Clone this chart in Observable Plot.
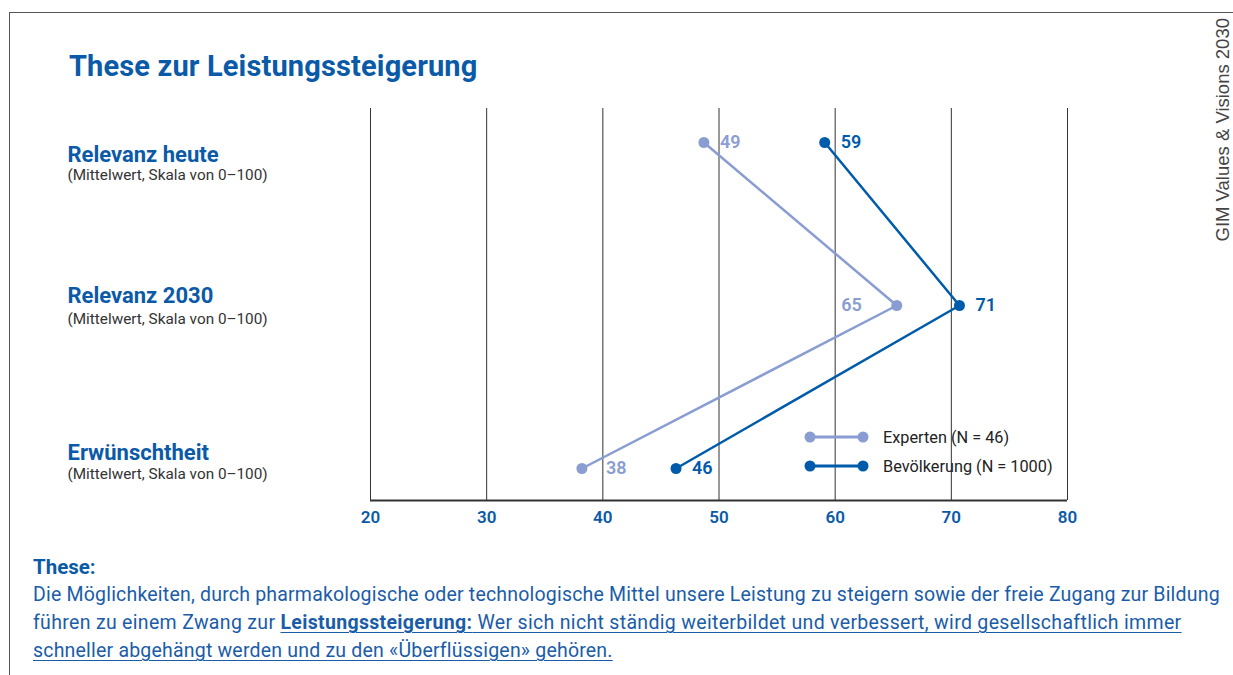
<!DOCTYPE html>
<html><head><meta charset="utf-8">
<script src="https://cdn.jsdelivr.net/npm/d3@7"></script>
<script src="https://cdn.jsdelivr.net/npm/@observablehq/plot@0.6"></script>
<style>
body{margin:0;width:1233px;height:675px;overflow:hidden;background:#fff;font-family:Roboto,"Liberation Sans",sans-serif;position:relative}
#frame{position:absolute;left:9px;top:12px;width:1300px;height:700px;border-left:1.5px solid #555;border-top:1.5px solid #555}
#title{position:absolute;left:69px;top:49px;font-size:29px;letter-spacing:0.15px;font-weight:700;color:#0a5aa8;white-space:nowrap}
#source{position:absolute;left:1214px;top:18px;writing-mode:vertical-rl;transform:rotate(180deg);font-family:"Liberation Sans",Arial,sans-serif;font-size:18.5px;line-height:18px;color:#444;white-space:nowrap}
#chart{position:absolute;left:0;top:0}
#legend{position:absolute;left:0;top:0}
#thesis{position:absolute;left:33px;top:553px;color:#1a5ca8}
#thesis .h{font-size:20.5px;font-weight:700;color:#0a5aa8;line-height:28px}
#thesis .p{font-size:19.5px;letter-spacing:0.2px;line-height:28px;white-space:nowrap}
#thesis u{text-decoration-thickness:1px;text-underline-offset:3px}
#thesis .l2{letter-spacing:0.32px}
</style></head><body>
<div id="frame"></div>
<div id="title">These zur Leistungssteigerung</div>
<div id="source">GIM Values &amp; Visions 2030</div>
<div id="chart"></div>
<div id="legend"></div>
<div id="thesis">
<div class="h">These:</div>
<div class="p">Die Möglichkeiten, durch pharmakologische oder technologische Mittel unsere Leistung zu steigern sowie der freie Zugang zur Bildung<br><span class="l2">führen zu einem Zwang zur <u><b>Leistungssteigerung:</b> Wer sich nicht ständig weiterbildet und verbessert, wird gesellschaftlich immer</u></span><br><u>schneller abgehängt werden und zu den «Überflüssigen» gehören.</u></div>
</div>
<script>
const categories = ["Relevanz heute", "Relevanz 2030", "Erwünschtheit"];
const categoryNotes = ["(Mittelwert, Skala von 0–100)", "(Mittelwert, Skala von 0–100)", "(Mittelwert, Skala von 0–100)"];
const series = ["Experten (N = 46)", "Bevölkerung (N = 1000)"];
const experten = [48.7, 65.3, 38.2];
const bevoelkerung = [59.1, 70.7, 46.3];
const xTicks = [20, 30, 40, 50, 60, 70, 80];

const colors = ["#8a9dd3", "#005bab"];
const blue = "#0a5aa8";
const rows = [];
[experten, bevoelkerung].forEach((vals, s) => vals.forEach((v, i) => rows.push({
  series: series[s], category: categories[i], value: v, label: String(Math.round(v)), s, i
})));
// label placement (style): side of the point
const leftLabel = d => d.s === 0 && d.i === 1;
const farLabel = d => d.s === 0 && d.i === 2;
const catLabelDy = [12, -10, -16];
const catNoteDy = [33, 14, 6];
const lblStyle = {x: "value", y: "category", text: "label", fill: "series", fontSize: 18, fontWeight: 600, letterSpacing: 0.6};

const marks = [
  Plot.ruleX(xTicks, {stroke: "#333", strokeWidth: 1}),
  Plot.ruleY([categories[2]], {dy: 32, stroke: "#333", strokeWidth: 2}),
  Plot.line(rows, {x: "value", y: "category", z: "series", stroke: "series", strokeWidth: 2.5}),
  Plot.dot(rows, {x: "value", y: "category", fill: "series", r: 5.5}),
  Plot.text(rows.filter(d => !leftLabel(d) && !farLabel(d)), {...lblStyle, textAnchor: "start", dx: 16}),
  Plot.text(rows.filter(farLabel), {...lblStyle, textAnchor: "start", dx: 24}),
  Plot.text(rows.filter(leftLabel), {...lblStyle, textAnchor: "end", dx: -35}),
  Plot.text(xTicks, {x: d => d, frameAnchor: "bottom", dy: 22, text: d => String(d), fill: blue, fontSize: 17, fontWeight: 600, letterSpacing: 0.6}),
];
categories.forEach((c, i) => {
  marks.push(Plot.text([c], {y: d => d, frameAnchor: "left", dx: -303, dy: catLabelDy[i], textAnchor: "start", text: d => d, fill: blue, fontSize: 22, fontWeight: 700, letterSpacing: 0.3}));
  marks.push(Plot.text([categoryNotes[i]], {y: () => c, frameAnchor: "left", dx: -303, dy: catNoteDy[i], textAnchor: "start", text: d => d, fill: "#333", fontSize: 15.3}));
});

const chart = Plot.plot({
  width: 1233, height: 540,
  marginLeft: 370, marginRight: 166, marginTop: 108, marginBottom: 40,
  x: {domain: [20, 80], axis: null},
  y: {domain: categories, range: [141, 468], padding: 0, axis: null},
  color: {domain: series, range: colors},
  style: {fontFamily: "Roboto, 'Liberation Sans', sans-serif", background: "transparent", overflow: "visible"},
  marks
});
document.getElementById("chart").appendChild(chart);

// legend
const lg = d3.select("#legend").append("svg").attr("width", 1233).attr("height", 540)
  .style("font-family", "Roboto, 'Liberation Sans', sans-serif");
series.forEach((s, k) => {
  const y = 437 + k * 29;
  const g = lg.append("g");
  g.append("line").attr("x1", 810).attr("x2", 863).attr("y1", y).attr("y2", y).attr("stroke", colors[k]).attr("stroke-width", 3);
  g.append("circle").attr("cx", 810).attr("cy", y).attr("r", 5.5).attr("fill", colors[k]);
  g.append("circle").attr("cx", 863).attr("cy", y).attr("r", 5.5).attr("fill", colors[k]);
  g.append("text").attr("x", 883).attr("y", y).attr("dy", "0.35em").attr("font-size", 16.3).attr("fill", "#222").text(s);
});
</script>
</body></html>
